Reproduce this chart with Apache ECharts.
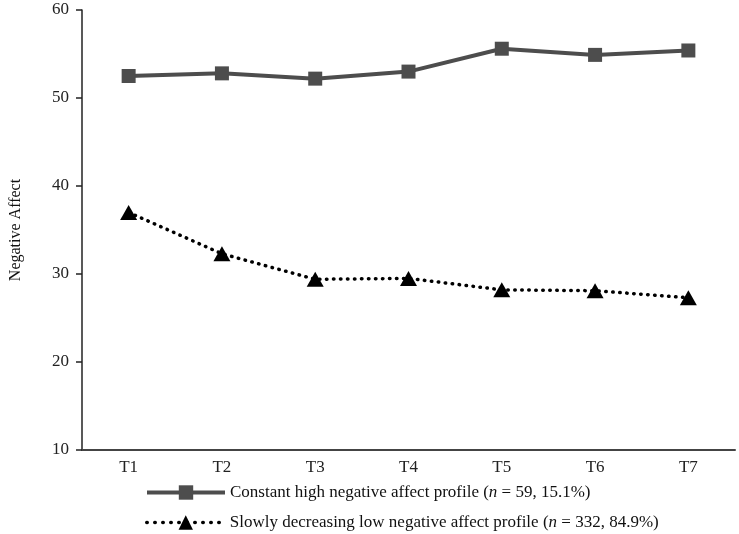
<!DOCTYPE html>
<html>
<head>
<meta charset="utf-8">
<script src="https://cdn.jsdelivr.net/npm/echarts@6/dist/echarts.min.js"></script>
<style>html,body{margin:0;padding:0;background:#fff}#c{width:739px;height:534px}</style>
</head>
<body>
<div id="c"></div>
<script>
var categories = ['T1', 'T2', 'T3', 'T4', 'T5', 'T6', 'T7'];
var highValues = [52.5, 52.8, 52.2, 53.0, 55.6, 54.9, 55.4];
var lowValues = [37.0, 32.3, 29.4, 29.5, 28.2, 28.1, 27.3];
var seriesNames = ['Constant high negative affect profile', 'Slowly decreasing low negative affect profile'];
var seriesNs = ['59, 15.1%', '332, 84.9%'];
var yTicks = { min: 10, max: 60, interval: 10 };

var font = 'Liberation Serif, Times New Roman, serif';
var legendText = {
  fontFamily: font, fontSize: 17, color: '#111',
  rich: {
    a: { fontFamily: font, fontSize: 17, color: '#111' },
    i: { fontFamily: font, fontSize: 17, color: '#111', fontStyle: 'italic' }
  }
};
function legendFmt(name) {
  var i = seriesNames.indexOf(name);
  return '{a|' + name + ' (}{i|n}{a| = ' + seriesNs[i] + ')}';
}
var chart = echarts.init(document.getElementById('c'), null, { renderer: 'canvas' });
chart.setOption({
  animation: false,
  backgroundColor: '#fff',
  grid: { left: 81, right: 4, top: 10, bottom: 84 },
  legend: [
    {
      left: 145, top: 484, padding: 0, itemWidth: 78, itemHeight: 18,
      selectedMode: false,
      data: [{ name: seriesNames[0], lineStyle: { width: 4, color: '#4d4d4d' }, itemStyle: { color: '#4d4d4d' } }],
      formatter: legendFmt, textStyle: legendText
    },
    {
      left: 145, top: 514, padding: 0, itemWidth: 78, itemHeight: 18,
      selectedMode: false,
      data: [{ name: seriesNames[1], lineStyle: { width: 3.5, color: '#000', type: [0.5, 7.5], cap: 'round' }, itemStyle: { color: '#000' } }],
      formatter: legendFmt, textStyle: legendText
    }
  ],
  xAxis: {
    type: 'category',
    data: categories,
    boundaryGap: true,
    axisLine: { lineStyle: { color: '#444', width: 2 } },
    axisTick: { show: false },
    axisLabel: { fontFamily: font, fontSize: 17, color: '#222', margin: 9 }
  },
  yAxis: {
    type: 'value',
    min: yTicks.min, max: yTicks.max, interval: yTicks.interval,
    name: 'Negative Affect',
    nameLocation: 'middle',
    nameGap: 58,
    nameTextStyle: { fontFamily: font, fontSize: 16, color: '#111' },
    splitLine: { show: false },
    axisLine: { show: true, lineStyle: { color: '#222', width: 1.5 } },
    axisTick: { show: true, length: 6, lineStyle: { color: '#222', width: 1.5 } },
    axisLabel: { fontFamily: font, fontSize: 17, color: '#222', margin: 13 }
  },
  series: [
    {
      name: seriesNames[0],
      type: 'line',
      data: highValues,
      symbol: 'rect',
      symbolSize: 14,
      itemStyle: { color: '#4d4d4d' },
      lineStyle: { color: '#4d4d4d', width: 4 }
    },
    {
      name: seriesNames[1],
      type: 'line',
      data: lowValues,
      symbol: 'triangle',
      symbolSize: [17, 15],
      itemStyle: { color: '#000' },
      lineStyle: { color: '#000', width: 3.5, type: [0.5, 6.5], cap: 'round' }
    }
  ]
});
</script>
</body>
</html>
